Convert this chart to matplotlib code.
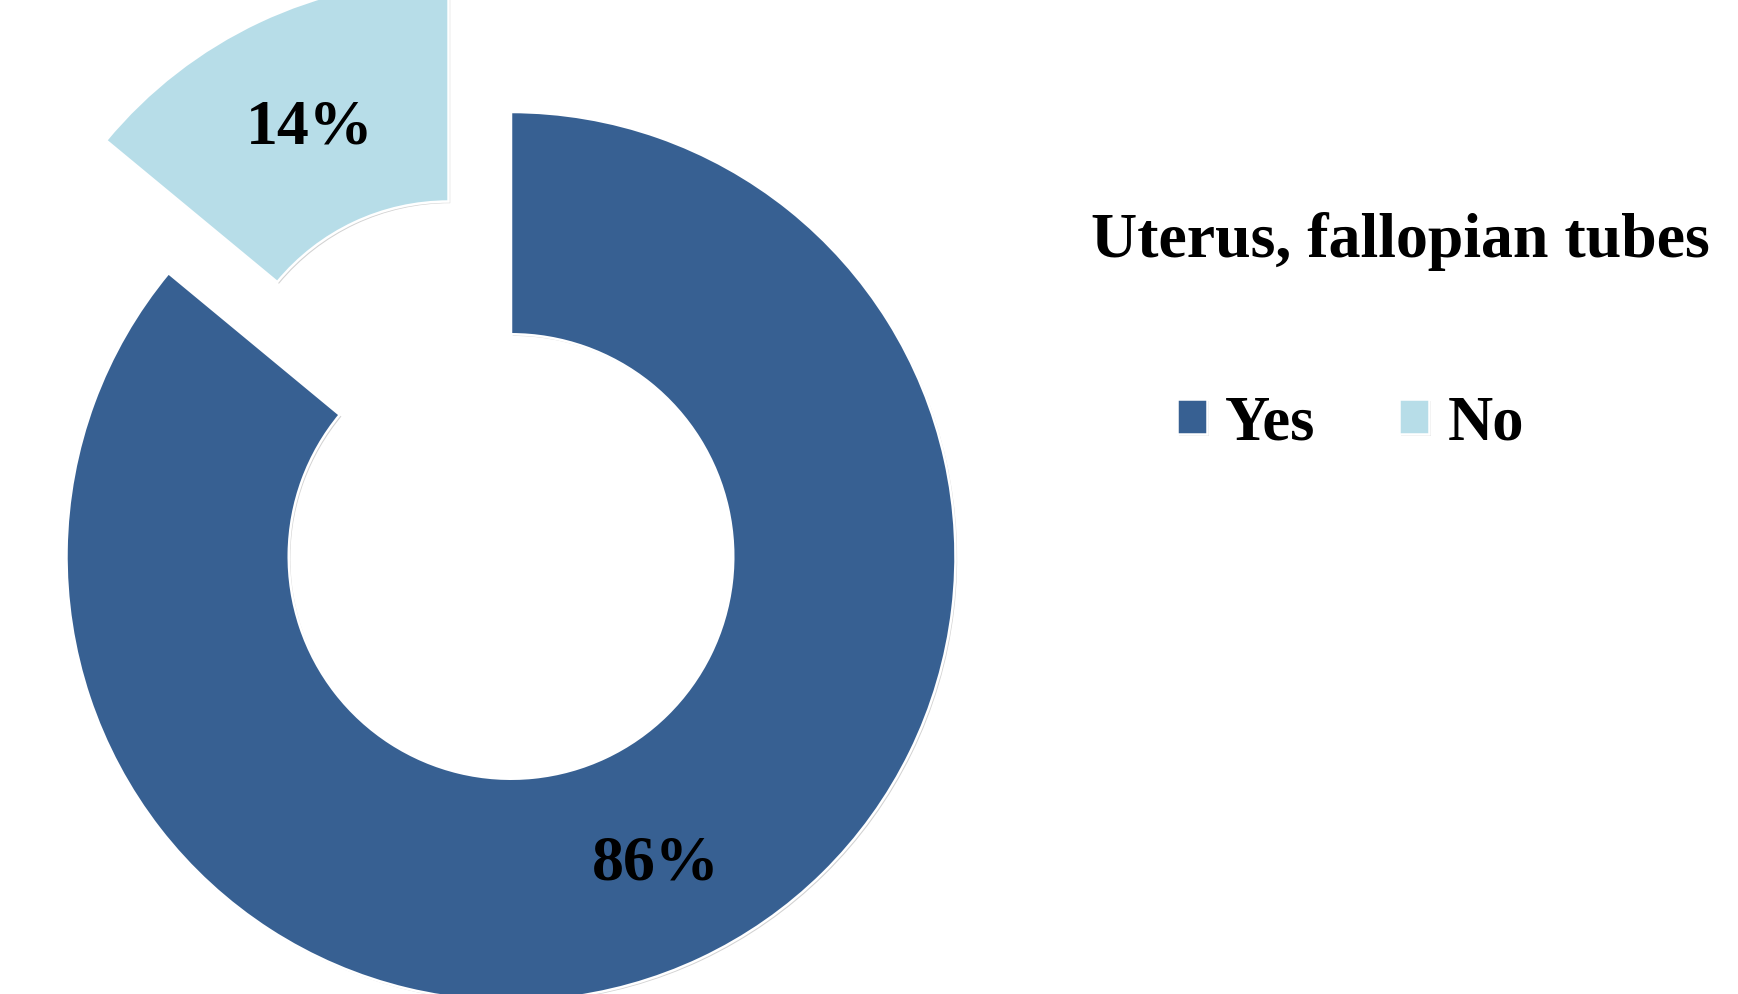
import numpy as np
import matplotlib
matplotlib.use("Agg")
import matplotlib.pyplot as plt
import matplotlib.patheffects as pe

# Data
categories = ["Yes", "No"]
shares = [86, 14]
colors = ["#376092", "#B7DDE8"]
explode = [0, 0.33]
title = "Uterus, fallopian tubes"

W, H = 1738, 994
fig = plt.figure(figsize=(W / 100, H / 100), dpi=100)
fig.patch.set_facecolor("white")

ax = fig.add_axes([0, 0, 1, 1])

font = dict(family=["Liberation Serif", "DejaVu Serif"], weight="bold")

wedges, texts, autotexts = ax.pie(
    shares,
    colors=colors,
    explode=explode,
    startangle=90,
    counterclock=False,
    radius=1.0,
    autopct=lambda p: f"{p:.0f}%",
    pctdistance=0.74,
    wedgeprops=dict(width=0.5, edgecolor="white", linewidth=1.8),
    textprops=dict(fontsize=46, color="black", **font),
)

# Fine-tune the radial placement of each percentage label
label_dist = [0.765, 0.735]
for w, t, d in zip(wedges, autotexts, label_dist):
    mid = np.deg2rad((w.theta1 + w.theta2) / 2)
    x0, y0 = w.center
    t.set_position((x0 + d * w.r * np.cos(mid), y0 + d * w.r * np.sin(mid)))

shadow = [pe.SimplePatchShadow(offset=(1.2, -1.2), shadow_rgbFace="#808080", alpha=0.35),
          pe.Normal()]
for w in wedges:
    w.set_path_effects(shadow)

# Place the ring: centre at (511, 556.5) px from top-left, radius 444.5 px
cx, cy, R = 511.0, 556.5, 444.5
ax.set_xlim(-cx / R, (W - cx) / R)
ax.set_ylim(-(H - cy) / R, cy / R)
ax.set_aspect("auto")
ax.axis("off")

fig.text(1400 / W, 1 - 257 / H, title, ha="center", va="baseline",
         fontsize=46, color="black", **font)

fig.legend(
    wedges, categories,
    loc="center left",
    bbox_to_anchor=(1177 / W, 1 - 424 / H),
    ncol=2,
    frameon=False,
    borderpad=0,
    borderaxespad=0,
    handlelength=0.48,
    handleheight=0.48,
    handletextpad=0.29,
    columnspacing=1.34,
    prop=dict(size=45, **font),
)

fig.savefig("out.png", dpi=100, facecolor="white")
